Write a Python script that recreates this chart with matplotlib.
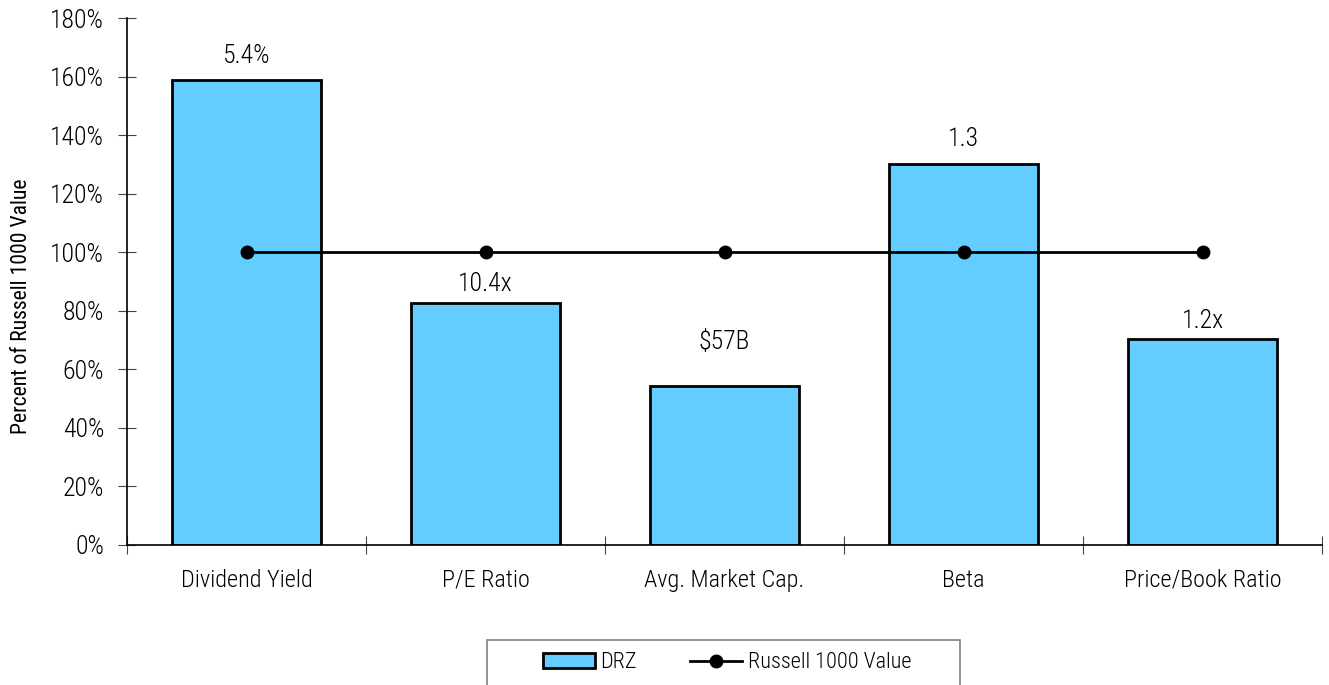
import numpy as np
import matplotlib.pyplot as plt
from matplotlib.patches import Rectangle
from matplotlib.ticker import FuncFormatter, FixedLocator

# --- donnees ---
categories = ["Dividend Yield", "P/E Ratio", "Avg. Market Cap.", "Beta", "Price/Book Ratio"]
drz_pct = [158.8, 82.6, 54.3, 130.1, 70.4]          # % de la valeur Russell 1000 Value
bar_labels = ["5.4%", "10.4x", "$57B", "1.3", "1.2x"]
bench_pct = [100, 100, 100, 100, 100]

# decalage (points) des etiquettes au-dessus des barres, comme sur l'original
label_gap = [12.2, 9.1, 26.6, 13.0, 7.9]

BAR_COLOR = "#62cdfe"
W, H = 1329, 685
plt.rcParams["font.family"] = ["Roboto Condensed", "Liberation Sans"]
plt.rcParams["font.weight"] = "light"

fig = plt.figure(figsize=(W / 100, H / 100), dpi=100)
ax = fig.add_axes([127 / W, 1 - 545 / H, (1322 - 127) / W, (545 - 18) / H])

x = np.arange(len(categories))
bars = ax.bar(x, drz_pct, width=0.62, color=BAR_COLOR, edgecolor="black", linewidth=2,
              label="DRZ", zorder=2)
line, = ax.plot(x, bench_pct, color="black", lw=2, marker="o", ms=9,
                label="Russell 1000 Value", zorder=3)

for b, lab, gap in zip(bars, bar_labels, label_gap):
    ax.annotate(lab, (b.get_x() + b.get_width() / 2, b.get_height()), xytext=(0, gap),
                textcoords="offset points", ha="center", va="baseline", fontsize=18.5)

ax.set_xlim(-0.5, len(categories) - 0.5)
ax.set_ylim(0, 180)
ax.yaxis.set_major_locator(FixedLocator(np.arange(0, 181, 20)))
ax.yaxis.set_major_formatter(FuncFormatter(lambda v, _: f"{v:.0f}%"))
# graduations x entre les categories, libelles au centre
ax.set_xticks(np.arange(-0.5, len(categories)), minor=False)
ax.set_xticklabels([])
ax.set_xticks(x, minor=True)
ax.set_xticklabels(categories, minor=True, fontsize=17.5)
ax.tick_params(axis="x", which="minor", length=0, pad=17)
ax.tick_params(axis="x", which="major", direction="inout", length=13, width=0.8, color="#444444")
ax.tick_params(axis="y", direction="inout", length=13, width=0.8, labelsize=18.5, pad=10,
               color="#444444")
for s in ["top", "right"]:
    ax.spines[s].set_visible(False)
ax.spines["left"].set_linewidth(1.2)
ax.spines["bottom"].set_linewidth(1.2)
ax.set_ylabel("Percent of Russell 1000 Value", fontsize=15.6)
ax.yaxis.set_label_coords((32 - 127) / 1195, (545 - 306) / 527)

# cadre de legende (coupe par le bas de l'image)
fig.patches.append(Rectangle((487 / W, -0.05), (960 - 487) / W, 0.05 + (H - 640) / H,
                             transform=fig.transFigure, fill=False, edgecolor="#808080",
                             linewidth=1.2))
leg = fig.legend(handles=[bars, line], loc="center", bbox_to_anchor=(727 / W, 1 - 663 / H),
                 ncol=2, fontsize=16, frameon=False, handlelength=2.35, handleheight=0.65,
                 handletextpad=0.25, columnspacing=2.4)

fig.savefig("out.png", dpi=100)
